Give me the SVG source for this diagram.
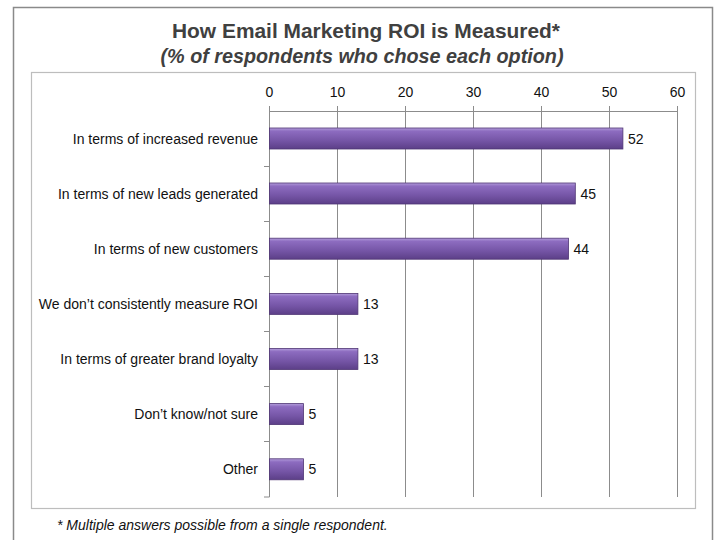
<svg xmlns="http://www.w3.org/2000/svg" width="716" height="540" viewBox="0 0 716 540">
<style>
.t{font-family:"Liberation Sans",Arial,sans-serif;fill:#404040;font-weight:bold;font-size:21px;text-anchor:middle}
.st{font-style:italic}
.lab{font-family:"Liberation Sans",Arial,sans-serif;font-size:14px;fill:#111;text-anchor:end}
.val{font-family:"Liberation Sans",Arial,sans-serif;font-size:14px;fill:#111}
.tick{font-family:"Liberation Sans",Arial,sans-serif;font-size:14px;fill:#111;text-anchor:middle}
.grid{stroke:#8c8c8c;stroke-width:1;fill:none}
.bar{fill:url(#bg);stroke:#4f3574;stroke-width:0.8}
.foot{font-family:"Liberation Sans",Arial,sans-serif;font-size:14px;font-style:italic;fill:#111}
</style>
<defs>
<linearGradient id="bg" x1="0" y1="0" x2="0" y2="1">
<stop offset="0" stop-color="#b39ddb"/>
<stop offset="0.15" stop-color="#8d6cc0"/>
<stop offset="0.6" stop-color="#7555a6"/>
<stop offset="1" stop-color="#5c3f88"/>
</linearGradient>
</defs>
<rect width="716" height="540" fill="#fff"/>
<path d="M13.5 545 V7.5 H712.5 V545" fill="none" stroke="#8a8a8a" stroke-width="1.5"/>
<text class="t" x="366" y="38" textLength="388" lengthAdjust="spacingAndGlyphs">How Email Marketing ROI is Measured*</text>
<text class="t st" x="362" y="63" textLength="403" lengthAdjust="spacingAndGlyphs">(% of respondents who chose each option)</text>
<rect x="31.5" y="72.5" width="664" height="436" fill="none" stroke="#bdbdbd" stroke-width="1.2"/>
<g id="grid">
<path class="grid" d="M269.5 106V497 M337.5 106V497 M405.5 106V497 M473.5 106V497 M541.5 106V497 M609.5 106V497 M677.5 106V497 M269 111.5H677.5"/>
<path class="grid" d="M264 166.5H269.5 M264 221.5H269.5 M264 276.5H269.5 M264 331.5H269.5 M264 386.5H269.5 M264 441.5H269.5 M264 497H269.5"/>
</g>
<g id="ticks">
<text class="tick" x="269.5" y="97">0</text>
<text class="tick" x="337.5" y="97">10</text>
<text class="tick" x="405.5" y="97">20</text>
<text class="tick" x="473.5" y="97">30</text>
<text class="tick" x="541.5" y="97">40</text>
<text class="tick" x="609.5" y="97">50</text>
<text class="tick" x="677.5" y="97">60</text>
</g>
<g id="bar1"><rect class="bar" x="269.5" y="128" width="353.4" height="21"/><text class="lab" x="258" y="143.5">In terms of increased revenue</text><text class="val" x="628" y="143.5">52</text></g>
<g id="bar2"><rect class="bar" x="269.5" y="183" width="305.8" height="21"/><text class="lab" x="258" y="198.5">In terms of new leads generated</text><text class="val" x="580.5" y="198.5">45</text></g>
<g id="bar3"><rect class="bar" x="269.5" y="238.2" width="299" height="21"/><text class="lab" x="258" y="253.7">In terms of new customers</text><text class="val" x="573.5" y="253.7">44</text></g>
<g id="bar4"><rect class="bar" x="269.5" y="293.4" width="88.4" height="21"/><text class="lab" x="258" y="308.9">We don’t consistently measure ROI</text><text class="val" x="363" y="308.9">13</text></g>
<g id="bar5"><rect class="bar" x="269.5" y="348.5" width="88.4" height="21"/><text class="lab" x="258" y="364">In terms of greater brand loyalty</text><text class="val" x="363" y="364">13</text></g>
<g id="bar6"><rect class="bar" x="269.5" y="403.6" width="34" height="21"/><text class="lab" x="258" y="419.1">Don’t know/not sure</text><text class="val" x="308.5" y="419.1">5</text></g>
<g id="bar7"><rect class="bar" x="269.5" y="458.8" width="34" height="21"/><text class="lab" x="258" y="474.3">Other</text><text class="val" x="308.5" y="474.3">5</text></g>
<text class="foot" x="57" y="530">* Multiple answers possible from a single respondent.</text>
</svg>
